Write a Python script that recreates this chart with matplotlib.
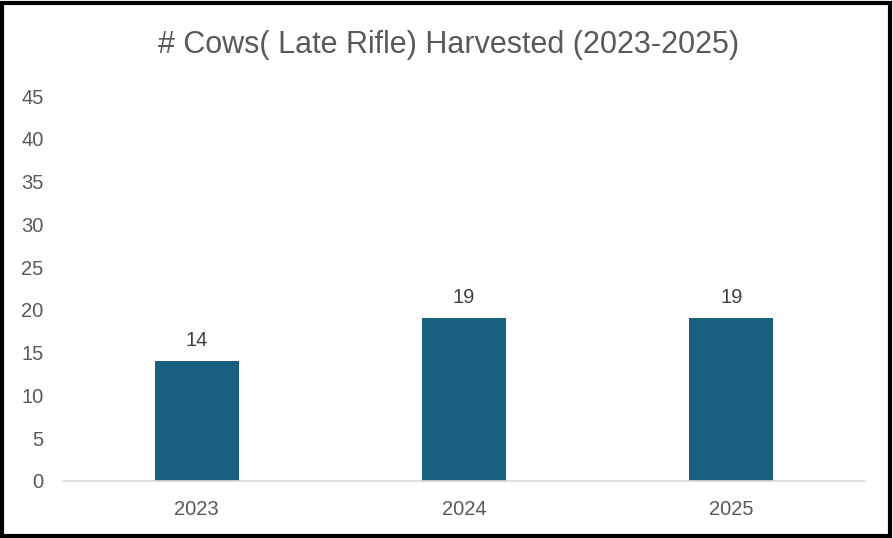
import matplotlib
matplotlib.use("Agg")
import matplotlib.pyplot as plt
from matplotlib.patches import Rectangle

plt.rcParams['font.family'] = ['Liberation Sans', 'DejaVu Sans']

years = ["2023", "2024", "2025"]
cows = [14, 19, 19]
yticks = [0, 5, 10, 15, 20, 25, 30, 35, 40, 45]

W, H = 893, 538
fig = plt.figure(figsize=(W/100, H/100), dpi=100)
ax = fig.add_axes([63/W, 1-481/H, (865-63)/W, (481-96)/H])

bar_color = "#185F80"
text_color = "#595959"
x = list(range(len(years)))
bars = ax.bar(x, cows, width=0.315, color=bar_color, zorder=2)
for xi, v in zip(x, cows):
    ax.text(xi, v + 1.3, str(v), ha='center', va='bottom', fontsize=14.5, color="#404040")

ax.set_xlim(-0.5, 2.5)
ax.set_ylim(0, 45)
ax.set_yticks(yticks)
ax.set_xticks(x)
ax.set_xticklabels(years)
for s in ['top', 'right', 'left']:
    ax.spines[s].set_visible(False)
ax.spines['bottom'].set_color("#D9D9D9")
ax.spines['bottom'].set_linewidth(1.2)
ax.tick_params(axis='both', length=0, labelsize=14.5, colors=text_color)
ax.tick_params(axis='y', pad=14)
ax.tick_params(axis='x', pad=14)

fig.text(449/W, 1-45/H, "# Cows( Late Rifle) Harvested (2023-2025)", ha='center', va='center',
         fontsize=22, color=text_color)

fig.patches.append(Rectangle((2/W, 2/H), 1-5/W, 1-5/H, transform=fig.transFigure,
                             fill=False, edgecolor='black', linewidth=3))
fig.savefig("out.png", dpi=100)
